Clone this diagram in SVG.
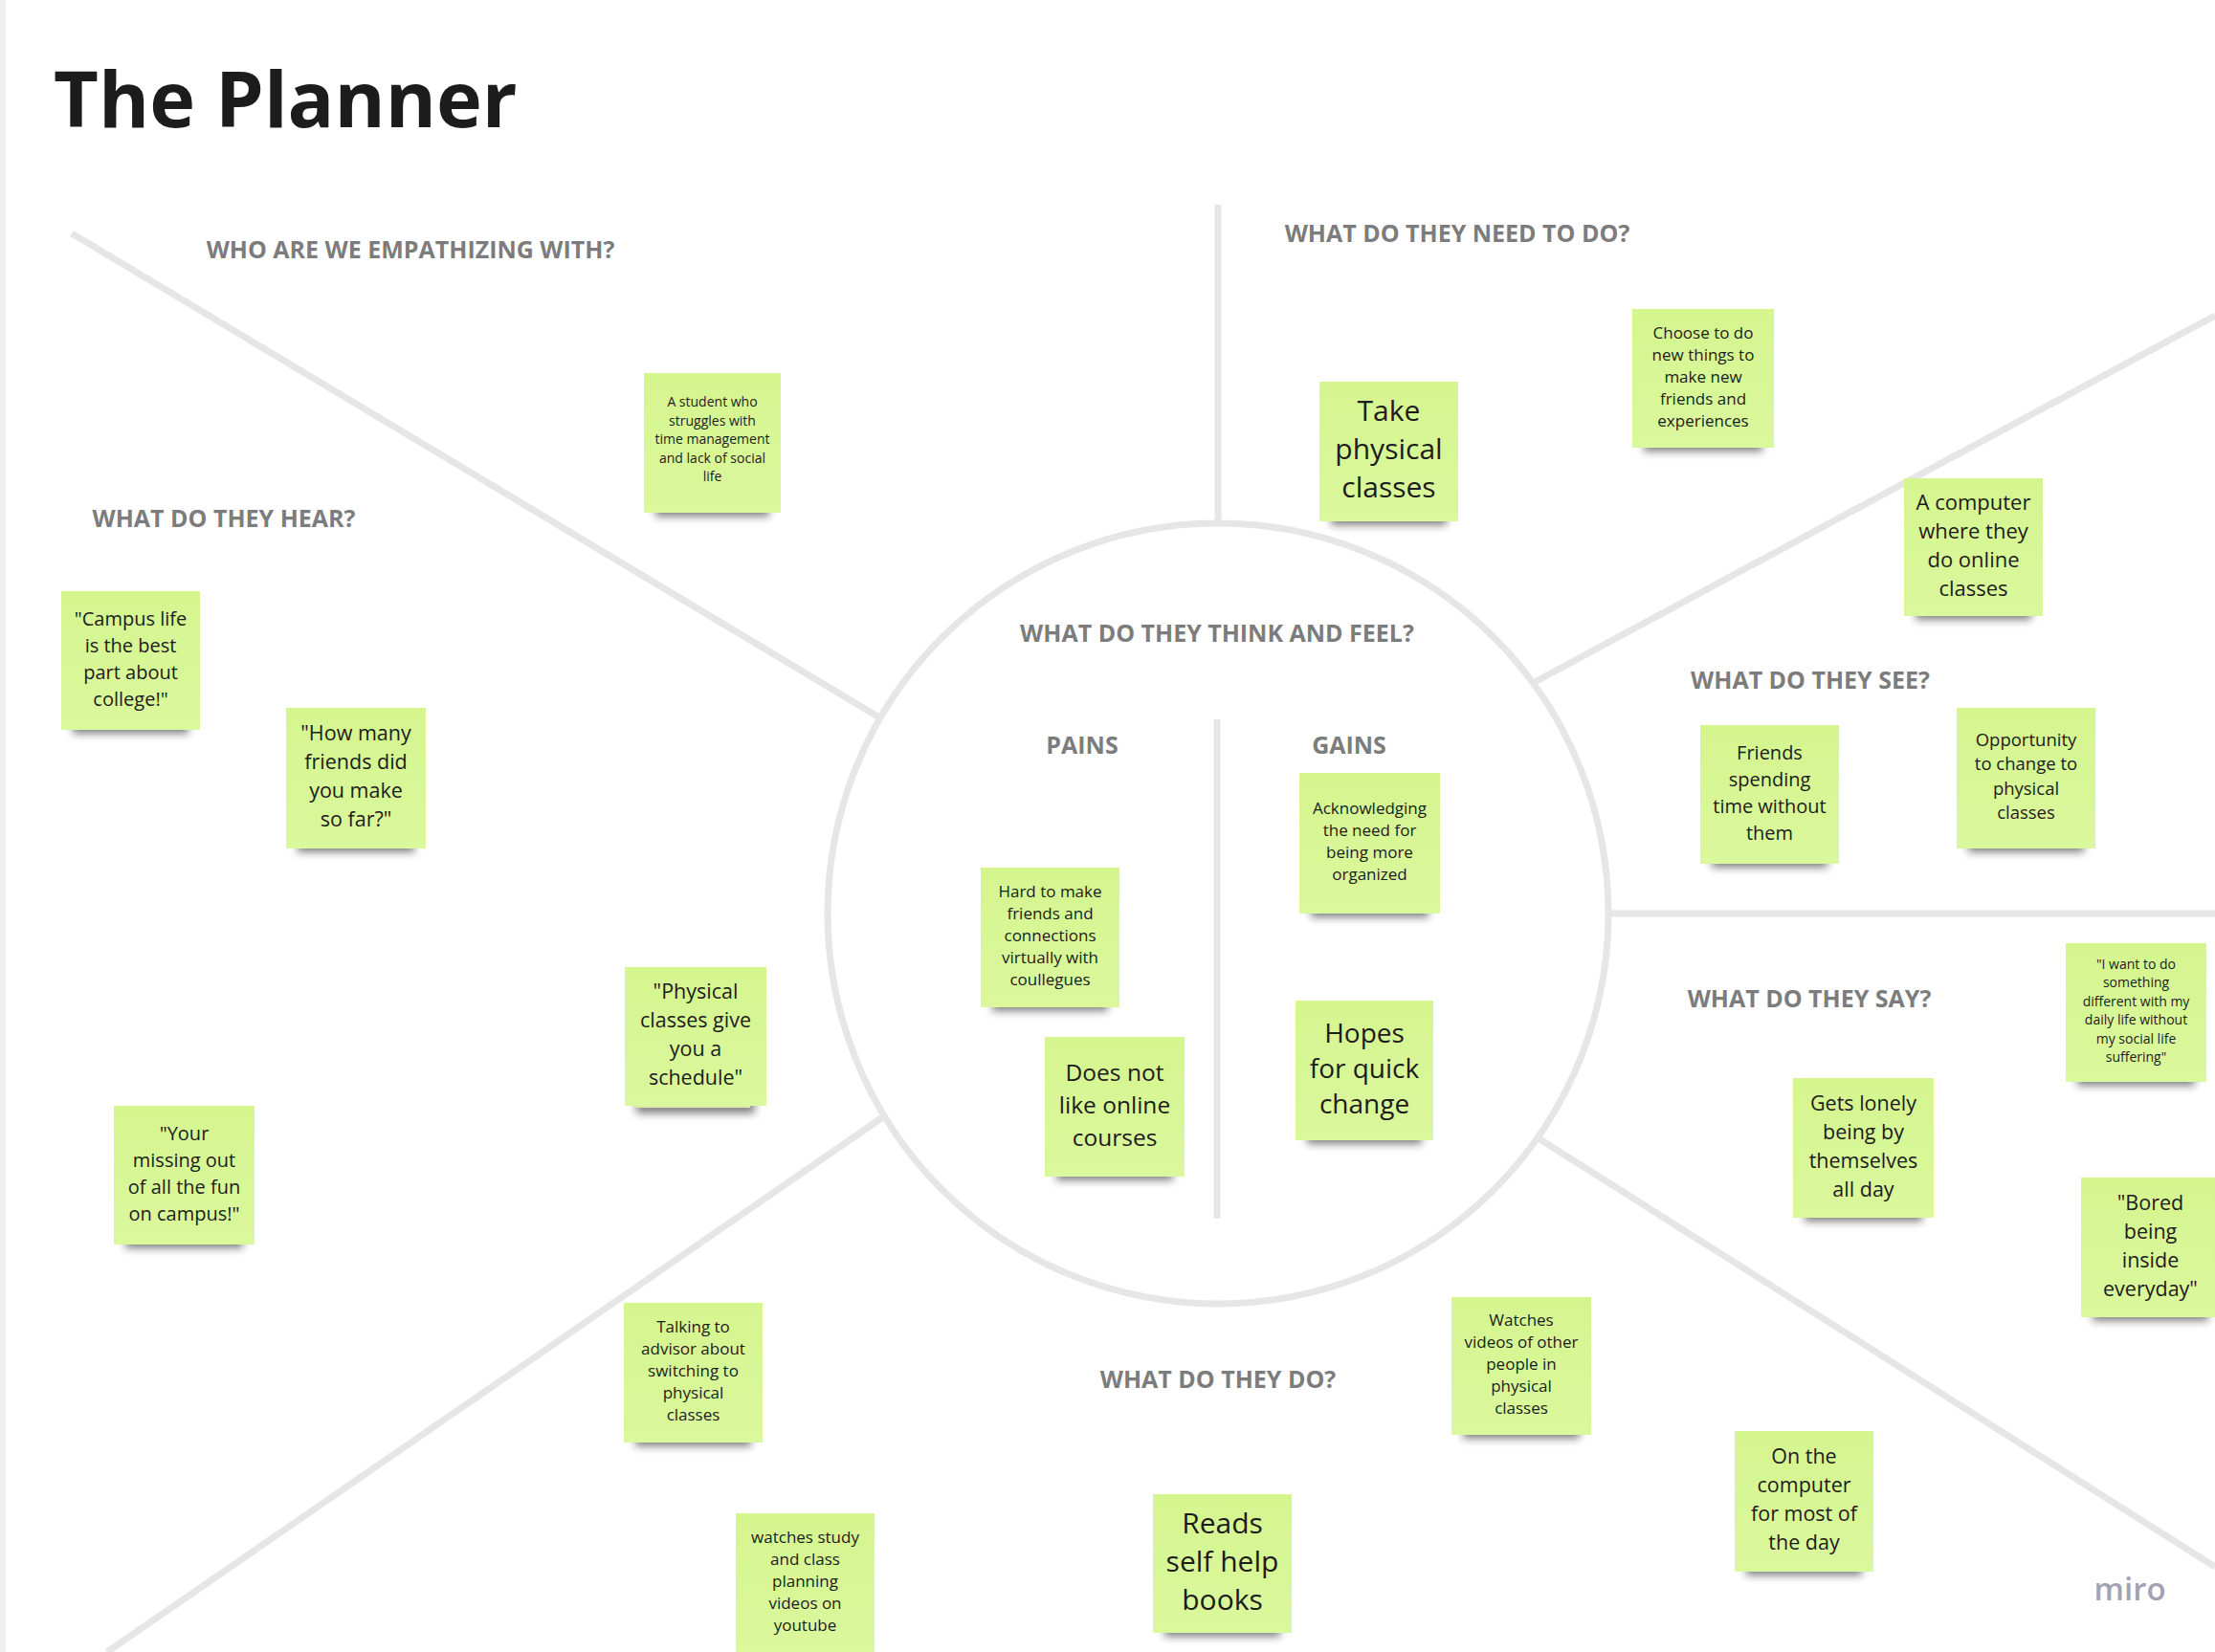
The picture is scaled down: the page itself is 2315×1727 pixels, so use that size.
<svg xmlns="http://www.w3.org/2000/svg" width="2315" height="1727" viewBox="0 0 2315 1727">
<defs>
<filter id="blur" x="-20%" y="-100%" width="140%" height="300%"><feGaussianBlur stdDeviation="4"/></filter>
<linearGradient id="noteFill" x1="0" y1="0" x2="0" y2="1">
<stop offset="0" stop-color="#d5f58f"/>
<stop offset="1" stop-color="#daf89c"/>
</linearGradient>
</defs>
<style>
.note{fill:url(#noteFill)}
.sh{fill:#1a1a1a;opacity:.55;filter:url(#blur)}
.nt{font-family:"Open Sans","Noto Sans","Liberation Sans",sans-serif;fill:#1c1c1c;text-anchor:middle}
.hd{font-family:"Open Sans","Noto Sans","Liberation Sans",sans-serif;font-weight:700;font-size:25px;fill:#7c7c7c;text-anchor:middle}
.ln{stroke:#e6e6e6;stroke-width:7;fill:none;stroke-linecap:butt}
</style>
<rect x="0" y="0" width="2315" height="1727" fill="#ffffff"/>
<rect x="0" y="0" width="6" height="1727" fill="#efefef"/>

<g id="connectors">
<circle class="ln" cx="1273" cy="955" r="408"/>
<line class="ln" x1="75" y1="244" x2="919" y2="750"/>
<line class="ln" x1="1273" y1="214" x2="1273" y2="547"/>
<line class="ln" x1="1604" y1="713" x2="2315" y2="330"/>
<line class="ln" x1="1681" y1="955" x2="2315" y2="955"/>
<line class="ln" x1="1608" y1="1190" x2="2315" y2="1638"/>
<line class="ln" x1="924" y1="1167" x2="112" y2="1727"/>
<line class="ln" x1="1272" y1="752" x2="1272" y2="1274"/>
</g>

<g id="title"><text x="56" y="133" font-family="'Open Sans','Noto Sans','Liberation Sans',sans-serif" font-weight="700" font-size="81" fill="#1c1c1c">The Planner</text></g>

<g id="headings">
<text class="hd" x="429" y="270">WHO ARE WE EMPATHIZING WITH?</text>
<text class="hd" x="234" y="551">WHAT DO THEY HEAR?</text>
<text class="hd" x="1523" y="253">WHAT DO THEY NEED TO DO?</text>
<text class="hd" x="1272" y="671">WHAT DO THEY THINK AND FEEL?</text>
<text class="hd" x="1131" y="788">PAINS</text>
<text class="hd" x="1410" y="788">GAINS</text>
<text class="hd" x="1892" y="720">WHAT DO THEY SEE?</text>
<text class="hd" x="1891" y="1053">WHAT DO THEY SAY?</text>
<text class="hd" x="1273" y="1451">WHAT DO THEY DO?</text>
</g>

<g id="n1"><rect class="sh" x="685" y="526" width="119" height="14"/><rect class="note" x="673" y="390" width="143" height="146"/>
<text class="nt" font-size="14" x="744.5" y="425"><tspan x="744.5">A student who</tspan><tspan x="744.5" dy="19.5">struggles with</tspan><tspan x="744.5" dy="19.5">time management</tspan><tspan x="744.5" dy="19.5">and lack of social</tspan><tspan x="744.5" dy="19.5">life</tspan></text></g>

<g id="n2"><rect class="sh" x="1391" y="535" width="121" height="14"/><rect class="note" x="1379" y="399" width="145" height="146"/>
<text class="nt" font-size="30" x="1451.5" y="440"><tspan x="1451.5">Take</tspan><tspan x="1451.5" dy="40">physical</tspan><tspan x="1451.5" dy="40">classes</tspan></text></g>

<g id="n3"><rect class="sh" x="1718" y="458" width="124" height="14"/><rect class="note" x="1706" y="323" width="148" height="145"/>
<text class="nt" font-size="17" x="1780" y="353.5"><tspan x="1780">Choose to do</tspan><tspan x="1780" dy="23">new things to</tspan><tspan x="1780" dy="23">make new</tspan><tspan x="1780" dy="23">friends and</tspan><tspan x="1780" dy="23">experiences</tspan></text></g>

<g id="n4"><rect class="sh" x="2002" y="634" width="121" height="14"/><rect class="note" x="1990" y="500" width="145" height="144"/>
<text class="nt" font-size="22" x="2062.5" y="532.5"><tspan x="2062.5">A computer</tspan><tspan x="2062.5" dy="30">where they</tspan><tspan x="2062.5" dy="30">do online</tspan><tspan x="2062.5" dy="30">classes</tspan></text></g>

<g id="n5"><rect class="sh" x="1789" y="893" width="121" height="14"/><rect class="note" x="1777" y="758" width="145" height="145"/>
<text class="nt" font-size="20" x="1849.5" y="793.5"><tspan x="1849.5">Friends</tspan><tspan x="1849.5" dy="28">spending</tspan><tspan x="1849.5" dy="28">time without</tspan><tspan x="1849.5" dy="28">them</tspan></text></g>

<g id="n6"><rect class="sh" x="2057" y="877" width="121" height="14"/><rect class="note" x="2045" y="740" width="145" height="147"/>
<text class="nt" font-size="18.5" x="2117.5" y="779.5"><tspan x="2117.5">Opportunity</tspan><tspan x="2117.5" dy="25.5">to change to</tspan><tspan x="2117.5" dy="25.5">physical</tspan><tspan x="2117.5" dy="25.5">classes</tspan></text></g>

<g id="n7"><rect class="sh" x="76" y="753" width="121" height="14"/><rect class="note" x="64" y="618" width="145" height="145"/>
<text class="nt" font-size="20" x="136.5" y="653.5"><tspan x="136.5">"Campus life</tspan><tspan x="136.5" dy="28">is the best</tspan><tspan x="136.5" dy="28">part about</tspan><tspan x="136.5" dy="28">college!"</tspan></text></g>

<g id="n8"><rect class="sh" x="311" y="877" width="122" height="14"/><rect class="note" x="299" y="740" width="146" height="147"/>
<text class="nt" font-size="21.5" x="372" y="774"><tspan x="372">"How many</tspan><tspan x="372" dy="30">friends did</tspan><tspan x="372" dy="30">you make</tspan><tspan x="372" dy="30">so far?"</tspan></text></g>

<g id="n9"><rect class="sh" x="665" y="1150" width="124" height="14"/><rect x="664" y="1150" width="120" height="8" fill="#e6e6a6"/><rect class="note" x="653" y="1011" width="148" height="145"/>
<text class="nt" font-size="21.5" x="727" y="1044"><tspan x="727">"Physical</tspan><tspan x="727" dy="30">classes give</tspan><tspan x="727" dy="30">you a</tspan><tspan x="727" dy="30">schedule"</tspan></text></g>

<g id="n10"><rect class="sh" x="131" y="1291" width="123" height="14"/><rect class="note" x="119" y="1156" width="147" height="145"/>
<text class="nt" font-size="20" x="192.5" y="1191.5"><tspan x="192.5">"Your</tspan><tspan x="192.5" dy="28">missing out</tspan><tspan x="192.5" dy="28">of all the fun</tspan><tspan x="192.5" dy="28">on campus!"</tspan></text></g>

<g id="n11"><rect class="sh" x="1037" y="1043" width="121" height="14"/><rect class="note" x="1025" y="907" width="145" height="146"/>
<text class="nt" font-size="17" x="1097.5" y="938"><tspan x="1097.5">Hard to make</tspan><tspan x="1097.5" dy="23">friends and</tspan><tspan x="1097.5" dy="23">connections</tspan><tspan x="1097.5" dy="23">virtually with</tspan><tspan x="1097.5" dy="23">coullegues</tspan></text></g>

<g id="n12"><rect class="sh" x="1104" y="1220" width="122" height="14"/><rect class="note" x="1092" y="1084" width="146" height="146"/>
<text class="nt" font-size="24.5" x="1165" y="1129.5"><tspan x="1165">Does not</tspan><tspan x="1165" dy="34">like online</tspan><tspan x="1165" dy="34">courses</tspan></text></g>

<g id="n13"><rect class="sh" x="1370" y="945" width="123" height="14"/><rect class="note" x="1358" y="808" width="147" height="147"/>
<text class="nt" font-size="17" x="1431.5" y="851"><tspan x="1431.5">Acknowledging</tspan><tspan x="1431.5" dy="23">the need for</tspan><tspan x="1431.5" dy="23">being more</tspan><tspan x="1431.5" dy="23">organized</tspan></text></g>

<g id="n14"><rect class="sh" x="1366" y="1182" width="120" height="14"/><rect class="note" x="1354" y="1046" width="144" height="146"/>
<text class="nt" font-size="28" x="1426" y="1090"><tspan x="1426">Hopes</tspan><tspan x="1426" dy="37">for quick</tspan><tspan x="1426" dy="37">change</tspan></text></g>

<g id="n15"><rect class="sh" x="664" y="1498" width="121" height="14"/><rect class="note" x="652" y="1362" width="145" height="146"/>
<text class="nt" font-size="17" x="724.5" y="1393"><tspan x="724.5">Talking to</tspan><tspan x="724.5" dy="23">advisor about</tspan><tspan x="724.5" dy="23">switching to</tspan><tspan x="724.5" dy="23">physical</tspan><tspan x="724.5" dy="23">classes</tspan></text></g>

<g id="n16"><rect class="sh" x="781" y="1718" width="121" height="14"/><rect class="note" x="769" y="1582" width="145" height="146"/>
<text class="nt" font-size="17" x="841.5" y="1613"><tspan x="841.5">watches study</tspan><tspan x="841.5" dy="23">and class</tspan><tspan x="841.5" dy="23">planning</tspan><tspan x="841.5" dy="23">videos on</tspan><tspan x="841.5" dy="23">youtube</tspan></text></g>

<g id="n17"><rect class="sh" x="1217" y="1697" width="121" height="14"/><rect class="note" x="1205" y="1562" width="145" height="145"/>
<text class="nt" font-size="30" x="1277.5" y="1603"><tspan x="1277.5">Reads</tspan><tspan x="1277.5" dy="40">self help</tspan><tspan x="1277.5" dy="40">books</tspan></text></g>

<g id="n18"><rect class="sh" x="2171" y="1121" width="123" height="14"/><rect class="note" x="2159" y="986" width="147" height="145"/>
<text class="nt" font-size="14" x="2232.5" y="1013"><tspan x="2232.5">"I want to do</tspan><tspan x="2232.5" dy="19.4">something</tspan><tspan x="2232.5" dy="19.4">different with my</tspan><tspan x="2232.5" dy="19.4">daily life without</tspan><tspan x="2232.5" dy="19.4">my social life</tspan><tspan x="2232.5" dy="19.4">suffering"</tspan></text></g>

<g id="n19"><rect class="sh" x="1886" y="1263" width="123" height="14"/><rect class="note" x="1874" y="1127" width="147" height="146"/>
<text class="nt" font-size="21.5" x="1947.5" y="1160.5"><tspan x="1947.5">Gets lonely</tspan><tspan x="1947.5" dy="30">being by</tspan><tspan x="1947.5" dy="30">themselves</tspan><tspan x="1947.5" dy="30">all day</tspan></text></g>

<g id="n20"><rect class="sh" x="2187" y="1367" width="121" height="14"/><rect class="note" x="2175" y="1231" width="145" height="146"/>
<text class="nt" font-size="21.5" x="2247.5" y="1264.5"><tspan x="2247.5">"Bored</tspan><tspan x="2247.5" dy="30">being</tspan><tspan x="2247.5" dy="30">inside</tspan><tspan x="2247.5" dy="30">everyday"</tspan></text></g>

<g id="n21"><rect class="sh" x="1529" y="1490" width="122" height="14"/><rect class="note" x="1517" y="1356" width="146" height="144"/>
<text class="nt" font-size="17" x="1590" y="1386"><tspan x="1590">Watches</tspan><tspan x="1590" dy="23">videos of other</tspan><tspan x="1590" dy="23">people in</tspan><tspan x="1590" dy="23">physical</tspan><tspan x="1590" dy="23">classes</tspan></text></g>

<g id="n22"><rect class="sh" x="1825" y="1633" width="121" height="14"/><rect class="note" x="1813" y="1496" width="145" height="147"/>
<text class="nt" font-size="21.5" x="1885.5" y="1530"><tspan x="1885.5">On the</tspan><tspan x="1885.5" dy="30">computer</tspan><tspan x="1885.5" dy="30">for most of</tspan><tspan x="1885.5" dy="30">the day</tspan></text></g>

<g id="logo"><text x="2226" y="1673" text-anchor="middle" font-family="'Open Sans','Noto Sans',sans-serif" font-weight="600" font-size="33" fill="#a3a2b3">miro</text></g>
</svg>
